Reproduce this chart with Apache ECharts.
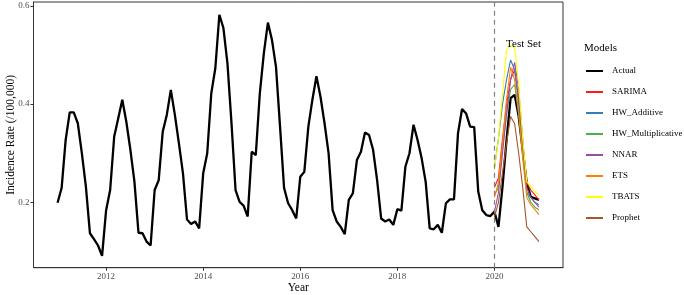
<!DOCTYPE html>
<html>
<head>
<meta charset="utf-8">
<script src="https://cdn.jsdelivr.net/npm/echarts@6/dist/echarts.min.js"></script>
<style>
  html, body { margin: 0; padding: 0; background: #ffffff; }
  #chart { width: 684px; height: 295px; }
</style>
</head>
<body>
<div id="chart"></div>
<script>
// ---- data ----
const startYear = 2011;
const testStart = 2020;
const xTickValues = [2012, 2014, 2016, 2018, 2020];
const yTickValues = [0.2, 0.4, 0.6];

// Monthly actual incidence rate, Jan 2011 .. Dec 2020
const actual = [
  0.199, 0.229, 0.327, 0.383, 0.383, 0.361, 0.300, 0.232, 0.137, 0.125, 0.112, 0.091,
  0.184, 0.225, 0.334, 0.371, 0.409, 0.364, 0.307, 0.242, 0.138, 0.137, 0.120, 0.112,
  0.225, 0.245, 0.344, 0.378, 0.429, 0.378, 0.320, 0.259, 0.165, 0.156, 0.161, 0.147,
  0.259, 0.300, 0.422, 0.473, 0.582, 0.555, 0.483, 0.361, 0.225, 0.201, 0.193, 0.171,
  0.303, 0.296, 0.422, 0.504, 0.566, 0.531, 0.476, 0.354, 0.229, 0.198, 0.184, 0.167,
  0.252, 0.262, 0.354, 0.409, 0.457, 0.415, 0.361, 0.300, 0.184, 0.161, 0.150, 0.135,
  0.205, 0.218, 0.286, 0.303, 0.342, 0.337, 0.307, 0.245, 0.167, 0.161, 0.165, 0.154,
  0.186, 0.183, 0.273, 0.300, 0.358, 0.327, 0.290, 0.242, 0.147, 0.145, 0.154, 0.138,
  0.198, 0.206, 0.206, 0.341, 0.390, 0.381, 0.354, 0.353, 0.222, 0.184, 0.174, 0.172,
  0.181, 0.150, 0.232, 0.327, 0.412, 0.419, 0.375, 0.306, 0.239, 0.211, 0.208, 0.205
];

// Forecasts, Jan 2020 .. Dec 2020
const sarima   = [0.230, 0.250, 0.330, 0.400, 0.450, 0.470, 0.410, 0.320, 0.240, 0.225, 0.215, 0.205];
const hwAdd    = [0.270, 0.330, 0.400, 0.450, 0.490, 0.470, 0.400, 0.300, 0.220, 0.210, 0.200, 0.195];
const hwMult   = [0.215, 0.230, 0.310, 0.380, 0.430, 0.440, 0.380, 0.300, 0.220, 0.200, 0.190, 0.185];
const nnar     = [0.180, 0.220, 0.300, 0.380, 0.450, 0.485, 0.430, 0.330, 0.230, 0.210, 0.200, 0.190];
const ets      = [0.210, 0.240, 0.320, 0.410, 0.475, 0.450, 0.380, 0.290, 0.210, 0.195, 0.185, 0.175];
const tbats    = [0.266, 0.330, 0.420, 0.510, 0.520, 0.515, 0.440, 0.330, 0.242, 0.232, 0.222, 0.215];
const prophet  = [0.170, 0.200, 0.260, 0.320, 0.375, 0.360, 0.300, 0.230, 0.150, 0.140, 0.130, 0.120];

const modelNames = ['Actual', 'SARIMA', 'HW_Additive', 'HW_Multiplicative', 'NNAR', 'ETS', 'TBATS', 'Prophet'];
const modelColors = ['#000000', '#ff1a1a', '#377eb8', '#4daf4a', '#984ea3', '#ff7f00', '#ffff00', '#a65628'];

// ---- build ----
const toPairs = (arr, y0) => arr.map((v, i) => [y0 + i / 12, v]);
const forecasts = [sarima, hwAdd, hwMult, nnar, ets, tbats, prophet];

const serif = 'Liberation Serif';

const series = [{
  name: modelNames[0],
  type: 'line',
  data: toPairs(actual, startYear),
  showSymbol: false,
  symbol: 'none',
  lineStyle: { color: modelColors[0], width: 2.3 },
  itemStyle: { color: modelColors[0] },
  markLine: {
    silent: true,
    symbol: 'none',
    label: { show: false },
    lineStyle: { color: '#808080', type: [5, 4], width: 1.2 },
    data: [{ xAxis: testStart }]
  },
  markPoint: {
    silent: true,
    symbol: 'circle',
    symbolSize: 0,
    label: { show: true, position: 'inside', formatter: 'Test Set', color: '#000', fontFamily: serif, fontSize: 11 },
    data: [{ coord: [2020.6, 0.522] }]
  },
  z: 2
}];
forecasts.forEach((arr, k) => {
  series.push({
    name: modelNames[k + 1],
    type: 'line',
    data: toPairs(arr, testStart),
    showSymbol: false,
    symbol: 'none',
    lineStyle: { color: modelColors[k + 1], width: 1.1 },
    itemStyle: { color: modelColors[k + 1] },
    z: 3
  });
});

const chart = echarts.init(document.getElementById('chart'), null, { renderer: 'canvas' });
chart.setOption({
  animation: false,
  backgroundColor: '#ffffff',
  title: {
    text: 'Models',
    left: 584, top: 43, padding: 0,
    textStyle: { fontFamily: serif, fontSize: 11, fontWeight: 'normal', color: '#000' }
  },
  legend: {
    orient: 'vertical',
    left: 586, top: 65, padding: 0,
    icon: 'rect',
    itemWidth: 17, itemHeight: 2,
    itemGap: 9,
    data: modelNames.map((n, i) => ({ name: n, itemStyle: { color: modelColors[i] } })),
    textStyle: { fontFamily: serif, fontSize: 9, color: '#000', lineHeight: 12, padding: [0, 0, 0, 4], overflow: 'none', width: 80 }
  },
  grid: {
    left: 33.5, right: 121, top: 2, bottom: 27.3,
    outerBoundsMode: 'none',
    containLabel: false,
    show: true, borderColor: '#333', borderWidth: 1, backgroundColor: 'transparent'
  },
  xAxis: {
    type: 'value',
    min: 2010.504, max: 2021.413,
    name: 'Year', nameLocation: 'middle', nameGap: 14, nameMoveOverlap: false,
    nameTextStyle: { fontFamily: serif, fontSize: 11.5, color: '#000' },
    axisLine: { show: true, lineStyle: { color: '#333', width: 1 } },
    axisTick: { show: true, customValues: xTickValues, length: 3, lineStyle: { color: '#333' } },
    axisLabel: { customValues: xTickValues, formatter: v => String(v), fontFamily: serif, fontSize: 9, color: '#4d4d4d', margin: 4 },
    splitLine: { show: false }
  },
  yAxis: {
    type: 'value',
    min: 0.0668, max: 0.608,
    name: 'Incidence Rate (/100,000)', nameLocation: 'middle', nameGap: 17, nameMoveOverlap: false,
    nameTextStyle: { fontFamily: serif, fontSize: 11.5, color: '#000' },
    axisLine: { show: true, lineStyle: { color: '#333', width: 1 } },
    axisTick: { show: true, customValues: yTickValues, length: 3, lineStyle: { color: '#333' } },
    axisLabel: { customValues: yTickValues, formatter: v => v.toFixed(1), fontFamily: serif, fontSize: 9, color: '#4d4d4d', margin: 4 },
    splitLine: { show: false }
  },
  series: series
});
</script>
</body>
</html>
